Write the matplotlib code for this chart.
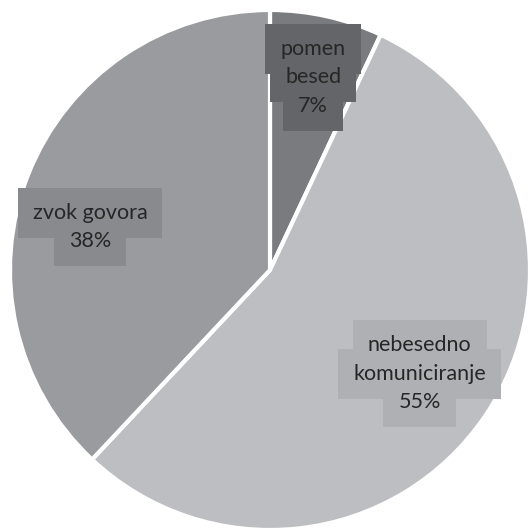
import matplotlib.pyplot as plt
import numpy as np

# share of each part of a spoken message
labels = ["pomen\nbesed", "nebesedno\nkomuniciranje", "zvok govora"]
shares = [7, 55, 38]
colors = ["#7a7b7f", "#bdbec1", "#9a9b9f"]
box_colors = ["#646568", "#afb0b3", "#898a8d"]
label_dist = [0.76, 0.71, 0.72]
label_shift = [(0, 0), (-3, 0), (-6, -26)]

plt.rcParams["font.family"] = ["Lato", "DejaVu Sans"]

W, H = 529, 531
fig = plt.figure(figsize=(W / 100, H / 100), dpi=100)
ax = fig.add_axes([0, 0, 1, 1])

cx, cy, R = 270, H - 270, 260
wedges, _ = ax.pie(shares, colors=colors, startangle=90, counterclock=False,
                   radius=R, center=(cx, cy), frame=True,
                   wedgeprops=dict(edgecolor="white", linewidth=3))
ax.set_xlim(0, W)
ax.set_ylim(0, H)
ax.set_aspect("equal")
ax.axis("off")

fs = 15.5
line_h = 28.5
for w, lab, val, bc, d, (sx, sy) in zip(wedges, labels, shares, box_colors,
                                         label_dist, label_shift):
    mid = np.deg2rad((w.theta1 + w.theta2) / 2)
    x = cx + d * R * np.cos(mid) + sx
    y = cy + d * R * np.sin(mid) + sy
    lines = lab.split("\n") + [f"{val}%"]
    n = len(lines)
    for i, s in enumerate(lines):
        ly = y + ((n - 1) / 2 - i) * line_h
        # background patch per line, then the text on top
        ax.text(x, ly, s, ha="center", va="center", fontsize=fs, color="none",
                bbox=dict(boxstyle="square,pad=0.7", fc=bc, ec="none"), zorder=3)
    for i, s in enumerate(lines):
        ly = y + ((n - 1) / 2 - i) * line_h
        ax.text(x, ly, s, ha="center", va="center", fontsize=fs,
                color="#262626", zorder=4)

fig.savefig("out.png", dpi=100, facecolor="white")
